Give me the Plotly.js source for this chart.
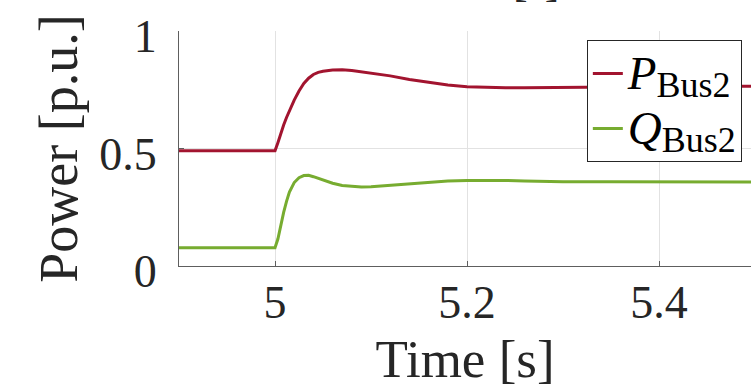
<!DOCTYPE html>
<html>
<head>
<meta charset="utf-8">
<script src="https://cdn.plot.ly/plotly-3.0.1.min.js"></script>
<style>
  html, body { margin: 0; padding: 0; background: #fff; }
  #chart { width: 751px; height: 391px; }
</style>
</head>
<body>
<div id="chart"></div>
<script>
// Simulation time [s]
const time = [4.9, 5.0, 5.003, 5.006, 5.009, 5.012, 5.015, 5.02, 5.025, 5.03, 5.035, 5.04, 5.045, 5.05,
  5.06, 5.07, 5.08, 5.09, 5.1, 5.11, 5.12, 5.14, 5.16, 5.18, 5.2, 5.22, 5.24, 5.26, 5.28, 5.3,
  5.35, 5.4, 5.45, 5.5];

// Active power at bus 2 [p.u.]
const pBus2 = [0.490, 0.490, 0.525, 0.565, 0.600, 0.632, 0.662, 0.706, 0.745, 0.777, 0.799, 0.815, 0.824, 0.829,
  0.834, 0.835, 0.832, 0.827, 0.822, 0.816, 0.809, 0.794, 0.781, 0.770, 0.763, 0.759, 0.758, 0.758, 0.759, 0.760,
  0.762, 0.764, 0.765, 0.765];

// Reactive power at bus 2 [p.u.]
const qBus2 = [0.078, 0.078, 0.115, 0.175, 0.228, 0.275, 0.315, 0.355, 0.376, 0.385, 0.386, 0.380, 0.373, 0.366,
  0.352, 0.343, 0.338, 0.336, 0.337, 0.340, 0.344, 0.352, 0.358, 0.362, 0.364, 0.365, 0.364, 0.362, 0.360, 0.359,
  0.358, 0.357, 0.357, 0.357];

// Axis ticks
const xTicks = [5, 5.2, 5.4];
const xTickText = ['5', '5.2', '5.4'];
const yTicks = [0, 0.5, 1];
const yTickText = ['0', '0.5', '1'];

const FONT = 'Liberation Serif, DejaVu Serif, serif';
const TEXT = '#262626';
const AXIS = '#5e5e5e';
const GRID = '#e2e2e2';

// Legend label: italic symbol with a roman subscript
const legendName = (sym) =>
  '<span style="font-size:47px"><i>' + sym + '</i></span><sub><span style="font-size:36px">Bus2</span></sub>';

const traces = [
  { x: time, y: pBus2, type: 'scatter', mode: 'lines', name: legendName('P'),
    line: { color: '#A2142F', width: 3 } },
  { x: time, y: qBus2, type: 'scatter', mode: 'lines', name: legendName('Q'),
    line: { color: '#77AC30', width: 3 } }
];

const layout = {
  width: 751, height: 391,
  margin: { l: 179, r: 0, t: 31, b: 125, pad: 0 },
  paper_bgcolor: '#ffffff', plot_bgcolor: '#ffffff',
  font: { family: FONT, color: TEXT },
  showlegend: true,
  xaxis: {
    range: [4.9, 5.4958], tickvals: xTicks, ticktext: xTickText,
    showgrid: true, gridcolor: GRID, gridwidth: 1, zeroline: false,
    showline: true, linecolor: AXIS, linewidth: 1,
    ticks: 'inside', ticklen: 5, tickcolor: AXIS, tickwidth: 1,
    tickfont: { family: FONT, size: 46, color: TEXT },
    ticklabelstandoff: -4,
    automargin: false,
    title: { text: 'Time [s]', font: { family: FONT, size: 53, color: TEXT }, standoff: 12 }
  },
  yaxis: {
    range: [0, 1], tickvals: yTicks, ticktext: yTickText,
    showgrid: true, gridcolor: GRID, gridwidth: 1, zeroline: false,
    showline: true, linecolor: AXIS, linewidth: 1,
    ticks: 'inside', ticklen: 5, tickcolor: AXIS, tickwidth: 1,
    tickfont: { family: FONT, size: 46, color: TEXT },
    ticklabelstandoff: 12, ticklabelshift: 5,
    automargin: false,
    title: { text: 'Power [p.u.]', font: { family: FONT, size: 54, color: TEXT }, standoff: 4 }
  },
  legend: {
    x: 0.713, y: 0.962, xanchor: 'left', yanchor: 'top',
    bgcolor: '#ffffff', bordercolor: '#262626', borderwidth: 1,
    font: { family: FONT, size: 40, color: '#000000' },
    tracegroupgap: 0, itemwidth: 30
  },
  annotations: [
    { xref: 'paper', yref: 'paper', x: 0.624, y: 1.098, xanchor: 'center', yanchor: 'bottom',
      text: '[s]', showarrow: false, font: { family: FONT, size: 44, color: TEXT } }
  ]
};

Plotly.newPlot('chart', traces, layout, { displayModeBar: false, staticPlot: true });
</script>
</body>
</html>
